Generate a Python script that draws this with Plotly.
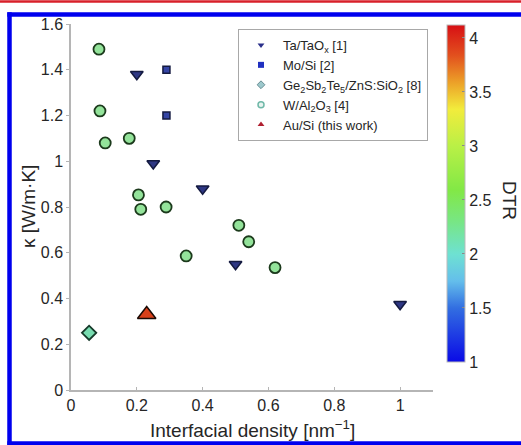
import plotly.graph_objects as go

# ---- data ----
ta_x = [0.20, 0.25, 0.40, 0.50, 1.00]
ta_y = [1.38, 0.99, 0.88, 0.55, 0.375]

mo_x = [0.29, 0.29]
mo_y = [1.40, 1.20]

gst_x = [0.055]
gst_y = [0.25]

w_x = [0.085, 0.088, 0.104, 0.177, 0.205, 0.212, 0.289, 0.35, 0.51, 0.54, 0.62]
w_y = [1.49, 1.22, 1.08, 1.10, 0.853, 0.79, 0.80, 0.586, 0.72, 0.648, 0.535]

au_x = [0.23]
au_y = [0.33]

legend_names = [
    "Ta/TaO<sub>x</sub> [1]",
    "Mo/Si [2]",
    "Ge<sub>2</sub>Sb<sub>2</sub>Te<sub>5</sub>/ZnS:SiO<sub>2</sub> [8]",
    "W/Al<sub>2</sub>O<sub>3</sub> [4]",
    "Au/Si (this work)",
]
dtr_ticks = [1, 1.5, 2, 2.5, 3, 3.5, 4]
x_ticks = [0, 0.2, 0.4, 0.6, 0.8, 1]
y_ticks = [0, 0.2, 0.4, 0.6, 0.8, 1, 1.2, 1.4, 1.6]

# ---- figure ----
W, H = 521, 445
L, R, T, B = 71, 88, 24, 55
pw, ph = W - L - R, H - T - B


def px(x):
    return (x - L) / pw


def py(y):
    return (H - B - y) / ph


fig = go.Figure()

fig.add_trace(go.Scatter(x=ta_x, y=ta_y, mode="markers", showlegend=False,
                         marker=dict(symbol="triangle-down", size=11, color="#2e3784",
                                     line=dict(color="#141a40", width=1.5))))
fig.add_trace(go.Scatter(x=mo_x, y=mo_y, mode="markers", showlegend=False,
                         marker=dict(symbol="square", size=7, color="#3545a5",
                                     line=dict(color="#141a40", width=1.5))))
fig.add_trace(go.Scatter(x=gst_x, y=gst_y, mode="markers", showlegend=False,
                         marker=dict(symbol="diamond", size=11, color="#78dcb0",
                                     line=dict(color="#163a2a", width=1.8))))
fig.add_trace(go.Scatter(x=w_x, y=w_y, mode="markers", showlegend=False,
                         marker=dict(symbol="circle", size=11, color="#93e39a",
                                     line=dict(color="#1c3a1c", width=1.8))))
fig.add_trace(go.Scatter(x=au_x, y=au_y, mode="markers", showlegend=False,
                         marker=dict(symbol="triangle-up", size=16, color="#d8401a",
                                     line=dict(color="#1a0a05", width=1.5))))

# legend-only entries with small markers
leg_specs = [
    dict(symbol="triangle-down", color="#2a2f8a", line=dict(color="#2a2f8a", width=0)),
    dict(symbol="square", color="#2030c0", line=dict(color="#2030c0", width=0)),
    dict(symbol="diamond", color="#9cc8cc", line=dict(color="#6a8f95", width=1)),
    dict(symbol="circle", color="#e8f4f0", line=dict(color="#6fb8a8", width=1.5)),
    dict(symbol="triangle-up", color="#b02030", line=dict(color="#b02030", width=0)),
]
for name, spec in zip(legend_names, leg_specs):
    fig.add_trace(go.Scatter(x=[None], y=[None], mode="markers", name=name,
                             marker=dict(size=6, **spec)))

# colorbar holder
cs = [
    [0.00, "rgb(10,10,230)"],
    [0.16, "rgb(50,110,225)"],
    [0.24, "rgb(100,190,235)"],
    [0.32, "rgb(110,225,210)"],
    [0.42, "rgb(120,230,130)"],
    [0.51, "rgb(130,232,70)"],
    [0.64, "rgb(185,240,70)"],
    [0.75, "rgb(242,236,60)"],
    [0.83, "rgb(236,160,40)"],
    [0.91, "rgb(226,80,30)"],
    [1.00, "rgb(215,15,20)"],
]
fig.add_trace(go.Scatter(
    x=[None], y=[None], mode="markers", showlegend=False,
    marker=dict(color=[1], cmin=1, cmax=4.12, colorscale=cs, showscale=True,
                colorbar=dict(x=px(447), xanchor="left", thickness=18,
                              lenmode="pixels", len=337, y=py(362), yanchor="bottom",
                              outlinewidth=1, outlinecolor="#bbbbbb",
                              tickvals=dtr_ticks, ticks="inside", ticklen=3,
                              tickcolor="#888888", xpad=0, ypad=0,
                              tickfont=dict(family="Liberation Sans, Arial", size=16,
                                            color="#262626")))))

font_fam = "Liberation Sans, Arial, Helvetica"
fig.update_layout(
    width=W, height=H,
    margin=dict(l=L, r=R, t=T, b=B, pad=0),
    paper_bgcolor="white", plot_bgcolor="white",
    font=dict(family=font_fam, color="#262626"),
    xaxis=dict(range=[0, 1.1], tickvals=x_ticks, showgrid=False, zeroline=False,
               showline=True, linecolor="#b5b5b5", linewidth=1.5,
               ticks="inside", ticklen=3, tickcolor="#b5b5b5",
               tickfont=dict(size=16, color="#262626")),
    yaxis=dict(range=[0, 1.6], tickvals=y_ticks, showgrid=False, zeroline=False,
               showline=True, linecolor="#b5b5b5", linewidth=1.5,
               ticks="outside", ticklen=3, tickcolor="#b5b5b5",
               tickfont=dict(size=16, color="#262626")),
    legend=dict(x=px(238), y=py(29), xanchor="left", yanchor="top",
                bgcolor="white", bordercolor="#a8a8a8", borderwidth=1,
                font=dict(family=font_fam, size=13, color="#262626"),
                tracegroupgap=0, itemwidth=34),
    showlegend=True,
)

fig.add_annotation(text="Interfacial density [nm<sup>−1</sup>]", xref="paper", yref="paper",
                   x=0.5, y=py(429), xanchor="center", yanchor="middle", showarrow=False,
                   font=dict(size=19, color="#262626"))
fig.add_annotation(text="κ [W/m·K]", xref="paper", yref="paper", textangle=-90,
                   x=px(28), y=0.5, xanchor="center", yanchor="middle", showarrow=False,
                   font=dict(size=19, color="#262626"))
fig.add_annotation(text="DTR", xref="paper", yref="paper", textangle=90,
                   x=px(510), y=py(200), xanchor="center", yanchor="middle", showarrow=False,
                   font=dict(size=19, color="#262626"))

# page frame (blue: left, top, bottom) and red top rule
blue = dict(color="#0000ee", width=4.5)
fig.add_shape(type="line", xref="paper", yref="paper", layer="below",
              x0=px(9.5), x1=px(9.5), y0=py(445.5), y1=py(12.3), line=blue)
fig.add_shape(type="line", xref="paper", yref="paper", layer="below",
              x0=px(7.3), x1=px(521), y0=py(14.5), y1=py(14.5), line=blue)
fig.add_shape(type="line", xref="paper", yref="paper", layer="below",
              x0=px(7.3), x1=px(521), y0=py(443.5), y1=py(443.5), line=blue)
fig.add_shape(type="line", xref="paper", yref="paper", layer="below",
              x0=px(0), x1=px(521), y0=py(1.5), y1=py(1.5),
              line=dict(color="#d8202a", width=2.5))

fig.write_html("out.html")
